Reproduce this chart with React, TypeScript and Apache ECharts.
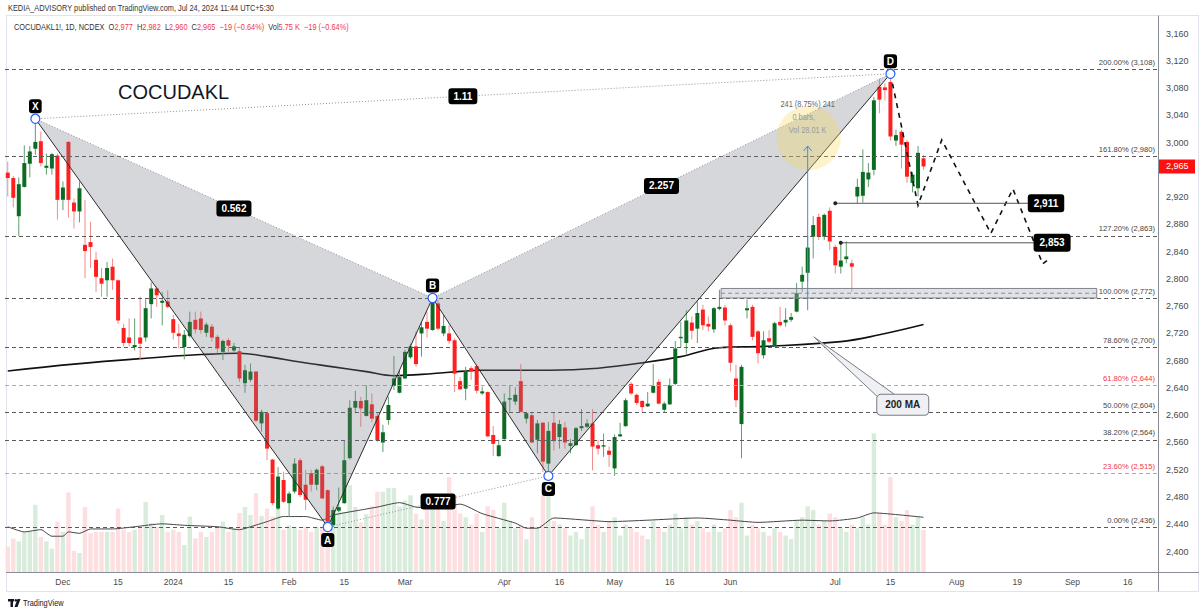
import React, { useEffect, useRef } from 'react';
import * as echarts from 'echarts';

const FONT = "'Liberation Sans', Arial, sans-serif";

// ---- calendar ----
const firstDay = '2023-11-16';
const lastDay = '2024-09-23';
const holidays = ['2023-11-27', '2023-12-25', '2024-01-22', '2024-01-26', '2024-03-08', '2024-03-25', '2024-03-29', '2024-04-11', '2024-04-17', '2024-05-01', '2024-05-20', '2024-06-17', '2024-07-17', '2024-08-15'];

const tickDates = ['2023-12-01', '2023-12-15', '2024-01-01', '2024-01-15', '2024-02-01', '2024-02-15', '2024-03-01', '2024-04-01', '2024-04-16', '2024-05-02', '2024-05-16', '2024-06-03', '2024-07-01', '2024-07-15', '2024-08-01', '2024-08-19', '2024-09-02', '2024-09-16'];
const tickTexts = ['Dec', '15', '2024', '15', 'Feb', '15', 'Mar', 'Apr', '16', 'May', '16', 'Jun', 'Jul', '15', 'Aug', '19', 'Sep', '16'];

// ---- OHLC (daily) ----
const opens = [
  2956, 2948, 2892, 2935, 2969, 2991, 3002, 2963, 2962, 2981,
  2916, 3001, 2912, 2899, 2850, 2854, 2828, 2801, 2798, 2818,
  2798, 2728, 2714, 2700, 2714, 2714, 2763, 2786, 2765, 2767,
  2741, 2720, 2700, 2716, 2740, 2742, 2721, 2730, 2715, 2693,
  2710, 2695, 2694, 2647, 2652, 2664, 2588, 2603, 2535, 2463,
  2505, 2471, 2488, 2534, 2498, 2515, 2498, 2525, 2490, 2439,
  2460, 2471, 2537, 2611, 2621, 2599, 2616, 2599, 2560, 2593,
  2643, 2633, 2654, 2685, 2701, 2720, 2737, 2725, 2764, 2720,
  2720, 2710, 2650, 2639, 2669, 2672, 2632, 2634, 2571, 2540,
  2565, 2623, 2620, 2650, 2595, 2600, 2564, 2589, 2529, 2589,
  2568, 2582, 2555, 2556, 2581, 2583, 2588, 2556, 2554, 2548,
  2522, 2569, 2584, 2646, 2630, 2621, 2613, 2633, 2649, 2608,
  2616, 2646, 2713, 2706, 2736, 2727, 2755, 2734, 2726, 2756,
  2758, 2732, 2654, 2587, 2754, 2759, 2723, 2688, 2713, 2701,
  2737, 2736, 2740, 2752, 2796, 2809, 2862, 2891, 2862, 2900,
  2847, 2818, 2829, 2823, 2921, 2922, 2946, 2960, 3082, 3081,
  3089, 3003, 3016, 3001, 2941, 2933, 2977,
];
const highs = [
  2972, 2951, 2949, 2996, 2995, 3035, 3016, 2984, 2985, 2984,
  2943, 3002, 2918, 2943, 2916, 2884, 2840, 2816, 2825, 2830,
  2799, 2734, 2742, 2742, 2774, 2770, 2795, 2789, 2781, 2783,
  2747, 2734, 2725, 2752, 2752, 2752, 2736, 2734, 2718, 2711,
  2713, 2706, 2700, 2674, 2676, 2664, 2608, 2605, 2536, 2524,
  2517, 2488, 2537, 2537, 2520, 2520, 2522, 2527, 2491, 2466,
  2494, 2563, 2622, 2636, 2627, 2644, 2632, 2603, 2586, 2627,
  2687, 2666, 2696, 2705, 2723, 2737, 2752, 2772, 2769, 2747,
  2732, 2713, 2656, 2671, 2672, 2674, 2642, 2635, 2584, 2564,
  2632, 2644, 2641, 2675, 2605, 2604, 2593, 2590, 2590, 2604,
  2593, 2590, 2565, 2583, 2609, 2594, 2609, 2564, 2573, 2554,
  2572, 2589, 2625, 2649, 2632, 2622, 2634, 2675, 2653, 2620,
  2654, 2709, 2737, 2754, 2745, 2767, 2762, 2745, 2759, 2784,
  2762, 2735, 2674, 2674, 2770, 2762, 2725, 2723, 2725, 2737,
  2759, 2757, 2750, 2794, 2818, 2864, 2892, 2896, 2896, 2905,
  2850, 2853, 2855, 2828, 2947, 2990, 2970, 3067, 3094, 3087,
  3101, 3019, 3019, 3004, 2957, 2995, 2982,
];
const lows = [
  2921, 2905, 2863, 2934, 2949, 2982, 2965, 2953, 2953, 2887,
  2901, 2890, 2874, 2883, 2801, 2816, 2781, 2774, 2774, 2784,
  2734, 2701, 2701, 2695, 2681, 2708, 2742, 2759, 2732, 2757,
  2711, 2698, 2682, 2714, 2720, 2720, 2715, 2708, 2691, 2681,
  2691, 2692, 2649, 2633, 2649, 2590, 2576, 2534, 2468, 2461,
  2471, 2451, 2485, 2480, 2461, 2488, 2490, 2477, 2436, 2436,
  2458, 2470, 2535, 2603, 2583, 2598, 2590, 2561, 2546, 2586,
  2637, 2632, 2653, 2683, 2671, 2686, 2714, 2724, 2725, 2716,
  2705, 2634, 2637, 2622, 2652, 2632, 2630, 2568, 2540, 2539,
  2564, 2605, 2615, 2604, 2588, 2559, 2544, 2517, 2511, 2548,
  2551, 2551, 2544, 2555, 2577, 2581, 2519, 2542, 2539, 2524,
  2511, 2568, 2583, 2630, 2615, 2604, 2612, 2632, 2616, 2604,
  2615, 2644, 2700, 2690, 2711, 2706, 2725, 2723, 2721, 2754,
  2732, 2664, 2612, 2537, 2742, 2710, 2676, 2683, 2706, 2700,
  2730, 2730, 2737, 2751, 2781, 2796, 2830, 2857, 2857, 2842,
  2808, 2808, 2823, 2781, 2911, 2912, 2935, 2952, 3043, 3062,
  3003, 2995, 2962, 2941, 2927, 2921, 2960,
];
const closes = [
  2948, 2919, 2939, 2970, 2987, 3001, 2970, 2966, 2983, 2916,
  2934, 2916, 2899, 2933, 2841, 2847, 2803, 2793, 2816, 2798,
  2739, 2706, 2706, 2703, 2705, 2757, 2786, 2776, 2768, 2759,
  2721, 2716, 2718, 2737, 2726, 2725, 2733, 2714, 2698, 2709,
  2702, 2701, 2654, 2666, 2664, 2592, 2605, 2551, 2471, 2510,
  2473, 2485, 2529, 2483, 2476, 2498, 2520, 2478, 2444, 2461,
  2465, 2534, 2611, 2621, 2610, 2622, 2595, 2563, 2575, 2615,
  2654, 2656, 2693, 2701, 2675, 2729, 2727, 2767, 2727, 2731,
  2709, 2661, 2638, 2665, 2664, 2636, 2635, 2569, 2558, 2556,
  2620, 2625, 2630, 2605, 2603, 2560, 2588, 2532, 2577, 2562,
  2587, 2560, 2559, 2581, 2584, 2588, 2554, 2551, 2556, 2542,
  2568, 2572, 2622, 2632, 2618, 2612, 2617, 2643, 2617, 2617,
  2644, 2698, 2715, 2739, 2724, 2750, 2732, 2730, 2757, 2759,
  2739, 2677, 2622, 2671, 2757, 2715, 2691, 2710, 2708, 2735,
  2732, 2740, 2744, 2779, 2806, 2846, 2879, 2862, 2894, 2855,
  2820, 2827, 2833, 2818, 2935, 2957, 2956, 3062, 3063, 3077,
  3009, 3011, 2997, 2950, 2953, 2985, 2965,
];
// volume in thousands
const volumes = [
  3.5, 4.6, 4.2, 5.5, 5.5, 9.2, 4.8, 4.2, 3.2, 6.9,
  5.5, 10.9, 2.9, 2.6, 8.9, 5.3, 5.5, 5.5, 5.5, 5.5,
  8.7, 5.8, 5.5, 5.8, 6.0, 9.6, 6.7, 6.2, 7.8, 5.5,
  5.8, 5.5, 3.7, 7.6, 4.6, 5.5, 4.8, 5.5, 6.2, 6.9,
  5.5, 6.0, 8.1, 8.9, 7.8, 10.8, 7.7, 8.7, 7.6, 8.7,
  5.8, 6.4, 6.2, 5.8, 6.2, 5.5, 6.2, 6.2, 8.5, 8.0,
  8.9, 8.2, 11.9, 8.9, 6.8, 7.9, 9.0, 11.0, 11.0, 11.5,
  11.5, 9.0, 9.8, 10.5, 8.0, 7.2, 8.5, 10.8, 9.5, 7.0,
  13.0, 10.5, 8.0, 7.5, 6.5, 8.0, 5.5, 9.0, 8.5, 6.0,
  9.5, 7.0, 6.0, 6.5, 4.5, 7.5, 6.0, 10.5, 10.8, 7.0,
  6.5, 6.0, 5.0, 5.5, 4.5, 6.0, 9.0, 6.5, 5.5, 7.0,
  7.5, 5.0, 6.5, 6.0, 5.5, 5.0, 4.5, 7.0, 6.0, 5.5,
  6.5, 8.0, 6.0, 7.5, 6.5, 7.0, 6.0, 5.5, 6.5, 5.5,
  6.0, 8.5, 7.5, 9.5, 5.0, 6.5, 6.0, 5.5, 5.0, 6.0,
  5.5, 5.0, 4.5, 7.0, 7.5, 9.0, 8.5, 6.5, 7.0, 8.0,
  7.5, 6.0, 5.5, 6.5, 6.0, 7.5, 6.5, 19.0, 8.0, 6.5,
  13.0, 7.5, 7.0, 8.5, 6.5, 7.5, 5.75,
];
const volumeMA = [
  [0, 6.2], [3, 5.5], [6, 5.8], [8, 4.9], [10, 4.9], [11, 5.5], [13, 5.3], [15, 5.9], [19, 5.9], [23, 6.2],
  [28, 6.6], [32, 6.4], [38, 6.2], [42, 5.8], [44, 6.2], [47, 6.9], [50, 7.6], [54, 7.6], [57, 7.1], [59, 7.8],
  [64, 8.5], [67, 8.9], [71, 9.5], [74, 8.9], [78, 8.7], [82, 9.3], [86, 8.0], [92, 6.7], [94, 6.0], [96, 6.0],
  [99, 7.4], [105, 7.1], [109, 6.9], [116, 7.1], [125, 7.4], [131, 7.1], [136, 6.8], [144, 7.1], [149, 7.0],
  [154, 7.4], [157, 8.1], [162, 7.8], [166, 7.5],
];
const ma200 = [
  [0, 2665], [12, 2675], [24, 2683], [35, 2689], [42, 2691], [47, 2686], [53, 2678], [59, 2671], [65, 2664],
  [70, 2658], [75, 2660], [80, 2663], [86, 2666], [98, 2666], [107, 2669], [116, 2678], [122, 2686], [129, 2699],
  [137, 2701], [151, 2708], [158, 2718], [166, 2733],
];

// ---- Fibonacci retracement (A -> B) ----
const fibRatios = [0, 0.236, 0.382, 0.5, 0.618, 0.786, 1, 1.272, 1.618, 2];
const fibPrices = [2436, 2515, 2564, 2604, 2644, 2700, 2772, 2863, 2980, 3108];
const fibRed = [false, true, false, false, true, false, false, false, false, false];

// ---- XABCD pattern ----
const patternNames = ['X', 'A', 'B', 'C', 'D'];
const patternIdx = [5, 58, 77, 98, 160];
const patternPrice = [3035, 2436, 2772, 2511, 3101];
const ratioTexts = ['0.562', '0.777', '2.257', '1.11']; // XB, AC, BD, XD

// ---- projected path ----
const projIdx = [160, 165.0, 169.3, 178.2, 182.2, 187.6, 188.7];
const projPrice = [3101, 2908, 3004, 2867, 2932, 2822, 2829];

// ---- target lines ----
const targetPrices = [2911, 2853];
const targetStart = [150, 151];
const targetLabelIdx = [188.2, 189.3];

// ---- 100% zone ----
const zoneIdx = [129.3, 197.4];
const zonePrice = [2772, 2786];

// ---- price range measurement ----
const measureIdx = 145;
const measurePrices = [2754, 2995];
const measureTexts = ['241 (8.75%) 241', '0 bars,', 'Vol 28.01 K'];

// ---- 200 MA callout ----
const calloutIdx = 146.1;
const calloutPrice = 2715;

const lastPrice = 2965;

const UP = '#0b6b22';
const DN = '#ff1f1f';
const WICK_UP = '#5f9d6d';
const WICK_DN = '#f28b8b';
const NARROW_X = 0.82;

function buildDays(): string[] {
  const out: string[] = [];
  const hol = new Set(holidays);
  const d = new Date(firstDay + 'T00:00:00Z');
  const end = new Date(lastDay + 'T00:00:00Z');
  while (d.getTime() <= end.getTime()) {
    const wd = d.getUTCDay();
    const s = d.toISOString().slice(0, 10);
    if (wd !== 0 && wd !== 6 && !hol.has(s)) out.push(s);
    d.setUTCDate(d.getUTCDate() + 1);
  }
  return out;
}

const fmt = (v: number) => v.toLocaleString('en-US');

export default function App() {
  const ref = useRef<HTMLDivElement>(null);

  useEffect(() => {
    document.body.style.margin = '0';
    const el = ref.current!;
    const chart = echarts.init(el, null, { renderer: 'svg' });
    const days = buildDays();
    const tickMap: Record<string, string> = {};
    tickDates.forEach((d, i) => { tickMap[d] = tickTexts[i]; });
    const tickIdx = new Set(tickDates.map((d) => days.indexOf(d)));

    const candleData = opens.map((o, i) => [i, o, closes[i], lows[i], highs[i]]);
    const volData = volumes.map((v, i) => ({
      value: v,
      itemStyle: { color: closes[i] >= opens[i] ? '#d9ecdc' : '#fddfe2' },
    }));

    const helper = (api: any) => {
      const band = api.size([1, 0])[0];
      const P = (k: number, v: number) => {
        const k0 = Math.floor(k);
        const c = api.coord([k0, v]);
        return [c[0] + (k - k0) * band, c[1]];
      };
      return { band, P };
    };

    const renderCandle = (_p: any, api: any) => {
      const k = api.value(0), o = api.value(1), c = api.value(2), l = api.value(3), h = api.value(4);
      const pO = api.coord([k, o]);
      const pC = api.coord([k, c]);
      const pH = api.coord([k, h]);
      const pL = api.coord([k, l]);
      const band = api.size([1, 0])[0];
      const w = Math.max(1, band * 0.72);
      const up = c >= o;
      const xc = pO[0];
      const top = Math.min(pO[1], pC[1]);
      const bh = Math.max(1, Math.abs(pO[1] - pC[1]));
      return {
        type: 'group',
        children: [
          { type: 'line', shape: { x1: xc, y1: pH[1], x2: xc, y2: pL[1] }, style: { stroke: up ? WICK_UP : WICK_DN, lineWidth: 1 } },
          { type: 'rect', shape: { x: xc - w / 2, y: top, width: w, height: bh }, style: { fill: up ? UP : DN } },
        ],
      };
    };

    const renderUnder = (_p: any, api: any) => {
      const { P } = helper(api);
      const pts = patternIdx.map((k, i) => P(k, patternPrice[i]));
      const [X, A, B, C, D] = pts;
      const fill = 'rgba(120,123,134,0.30)';
      const z1 = P(zoneIdx[0], zonePrice[1]);
      const z2 = P(zoneIdx[1], zonePrice[0]);
      const zm = (z1[1] + z2[1]) / 2;
      const proj = projIdx.map((k, i) => P(k, projPrice[i]));
      const dotted = [[X, B], [A, C], [B, D], [X, D]].map(([p, q]) => ({
        type: 'line', shape: { x1: p[0], y1: p[1], x2: q[0], y2: q[1] },
        style: { stroke: '#8f929b', lineWidth: 1, lineDash: [1, 2], fill: 'none' },
      }));
      const targets: any[] = [];
      targetPrices.forEach((tp, i) => {
        const s = P(targetStart[i], tp);
        const e = P(targetLabelIdx[i], tp);
        targets.push({ type: 'line', shape: { x1: s[0], y1: s[1], x2: e[0], y2: e[1] }, style: { stroke: '#555', lineWidth: 1, fill: 'none' } });
        targets.push({ type: 'circle', shape: { cx: s[0], cy: s[1], r: 2 }, style: { fill: '#222' } });
      });
      const mb = P(measureIdx, measurePrices[0]);
      const mt = P(measureIdx, measurePrices[1]);
      return {
        type: 'group',
        children: [
          { type: 'polygon', shape: { points: [X, A, B] }, style: { fill } },
          { type: 'polygon', shape: { points: [B, C, D] }, style: { fill } },
          { type: 'rect', shape: { x: z1[0], y: z1[1], width: z2[0] - z1[0], height: z2[1] - z1[1] }, style: { fill: 'rgba(170,173,182,0.35)', stroke: '#80838c', lineWidth: 1 } },
          { type: 'line', shape: { x1: z1[0], y1: zm, x2: z2[0], y2: zm }, style: { stroke: '#8a8d96', lineWidth: 1, lineDash: [4, 3], fill: 'none' } },
          { type: 'polyline', shape: { points: [X, A, B, C, D] }, style: { stroke: '#2b2b2b', lineWidth: 1, fill: 'none' } },
          ...dotted,
          { type: 'polyline', shape: { points: proj }, style: { stroke: '#111', lineWidth: 1.6, lineDash: [5, 5], fill: 'none' } },
          ...targets,
          { type: 'circle', shape: { cx: mt[0] + 1, cy: mt[1] - 8, r: 32 }, style: { fill: 'rgba(245,215,80,0.30)' } },
          { type: 'line', shape: { x1: mb[0], y1: mb[1], x2: mt[0], y2: mt[1] }, style: { stroke: '#4a86f0', lineWidth: 1, fill: 'none' } },
          { type: 'polyline', shape: { points: [[mt[0] - 4, mt[1] + 5], [mt[0], mt[1]], [mt[0] + 4, mt[1] + 5]] }, style: { stroke: '#4a86f0', lineWidth: 1, fill: 'none' } },
        ],
      };
    };

    const renderOver = (_p: any, api: any) => {
      const { band, P } = helper(api);
      const pts = patternIdx.map((k, i) => P(k, patternPrice[i]));
      const [X, A, B, C, D] = pts;
      const pairs = [[X, B], [A, C], [B, D], [X, D]];
      const children: any[] = [];
      pairs.forEach(([p, q], i) => {
        children.push({
          type: 'text',
          style: {
            text: ratioTexts[i], x: (p[0] + q[0]) / 2, y: (p[1] + q[1]) / 2, align: 'center', verticalAlign: 'middle',
            font: `bold 10px ${FONT}`, fill: '#fff', backgroundColor: '#000', padding: [3, 5], borderRadius: 3,
          },
        });
      });
      pts.forEach((p, i) => {
        children.push({ type: 'circle', shape: { cx: p[0], cy: p[1], r: 4.5 }, style: { fill: '#fff', stroke: '#2962ff', lineWidth: 1.2 } });
        const below = patternNames[i] === 'A' || patternNames[i] === 'C';
        children.push({
          type: 'text',
          style: {
            text: patternNames[i], x: p[0], y: p[1] + (below ? 13 : -12.5), align: 'center', verticalAlign: 'middle',
            font: `bold 10px ${FONT}`, fill: '#fff', backgroundColor: '#000', padding: [2, 3], borderRadius: 3,
          },
        });
      });
      targetPrices.forEach((tp, i) => {
        const e = P(targetLabelIdx[i], tp);
        children.push({
          type: 'text',
          style: {
            text: fmt(tp), x: e[0], y: e[1], align: 'center', verticalAlign: 'middle',
            font: `bold 10px ${FONT}`, fill: '#fff', backgroundColor: '#000', padding: [4, 6], borderRadius: 3,
          },
        });
      });
      const mt = P(measureIdx, measurePrices[1]);
      measureTexts.forEach((t, i) => {
        children.push({
          type: 'text',
          x: mt[0] + (i === 1 ? -4 : 0),
          y: mt[1] - 42 + i * 13.3,
          scaleX: NARROW_X,
          style: {
            text: t, x: 0, y: 0, align: 'center', verticalAlign: 'middle',
            font: `9px ${FONT}`, fill: i === 0 ? '#666' : '#9a9a9a',
          },
        });
      });
      const tip = P(calloutIdx, calloutPrice);
      children.push({
        type: 'polygon',
        shape: { points: [tip, [tip[0] + 66, tip[1] + 62], [tip[0] + 80, tip[1] + 57]] },
        style: { fill: '#eef0f3', stroke: '#7a7d85', lineWidth: 1 },
      });
      children.push({
        type: 'text',
        style: {
          text: '200 MA', x: tip[0] + 89, y: tip[1] + 68, align: 'center', verticalAlign: 'middle',
          font: `bold 10px ${FONT}`, fill: '#222', backgroundColor: '#eef0f3', borderColor: '#7a7d85', borderWidth: 1,
          borderRadius: 4, padding: [5, 8],
        },
      });
      const lp = P(days.length - 1, lastPrice);
      const xr = lp[0] + band / 2;
      children.push({ type: 'rect', shape: { x: xr + 1, y: lp[1] - 7, width: 36, height: 14 }, style: { fill: '#ff1010' } });
      children.push({
        type: 'text',
        style: { text: fmt(lastPrice), x: xr + 8, y: lp[1], verticalAlign: 'middle', font: `9px ${FONT}`, fill: '#fff' },
      });
      return { type: 'group', children };
    };

    const option: any = {
      animation: false,
      textStyle: { fontFamily: FONT },
      grid: { left: 5, right: 42, top: 6.3, height: 572.5 },
      xAxis: {
        type: 'category',
        data: days,
        boundaryGap: true,
        offset: -7,
        axisLine: { show: false },
        axisTick: { show: false },
        splitLine: { show: false },
        axisLabel: {
          interval: (i: number) => tickIdx.has(i),
          formatter: (v: string) => tickMap[v] || '',
          color: '#4a4a4a',
          fontSize: 8.5,
          margin: 6,
          hideOverlap: false,
        },
      },
      yAxis: [
        {
          type: 'value',
          position: 'right',
          min: 2360,
          max: 3200,
          interval: 40,
          axisLine: { show: false },
          axisTick: { show: false },
          splitLine: { show: false },
          axisLabel: {
            color: '#4a4a4a',
            fontSize: 9,
            margin: 8,
            showMinLabel: false,
            showMaxLabel: false,
            formatter: (v: number) => (v === 2960 ? '' : fmt(v)),
          },
        },
        { type: 'value', min: -0.93, max: 77.5, show: false },
      ],
      series: [
        { type: 'bar', name: 'Volume', yAxisIndex: 1, data: volData, barWidth: '80%', z: 1, silent: true },
        {
          type: 'line', name: 'Volume MA', yAxisIndex: 1, data: volumeMA, smooth: 0.2, symbol: 'none',
          lineStyle: { color: '#444', width: 1 }, z: 2, silent: true,
        },
        {
          type: 'line', name: '200 MA', data: ma200, smooth: 0.4, symbol: 'none',
          lineStyle: { color: '#111', width: 1.6 }, z: 3, silent: true,
        },
        { type: 'custom', name: 'Price', data: candleData, encode: { x: 0, y: [1, 2, 3, 4] }, renderItem: renderCandle, z: 4, silent: true },
        { type: 'custom', name: 'Pattern', data: [[0, 2800]], encode: { x: 0, y: 1 }, renderItem: renderUnder, z: 10, silent: true },
        {
          type: 'line', name: 'Fib', data: [], z: 11, silent: true,
          markLine: {
            silent: true,
            symbol: ['none', 'none'],
            animation: false,
            data: fibPrices.map((p, i) => ({
              yAxis: p,
              lineStyle: { color: fibRed[i] ? '#f58c92' : '#5a5a5a', type: [4, 3], width: 1 },
              label: {
                show: true,
                position: 'insideEndTop',
                formatter: `${(fibRatios[i] * 100).toFixed(2)}% (${fmt(p)})`,
                color: fibRed[i] ? '#f23645' : '#444',
                fontSize: 7.6,
                distance: 3,
              },
            })),
          },
        },
        { type: 'custom', name: 'Labels', data: [[0, 2800]], encode: { x: 0, y: 1 }, renderItem: renderOver, z: 12, silent: true },
      ],
      graphic: [
        { type: 'text', x: 8, y: 8, scaleX: NARROW_X, style: { text: 'KEDIA_ADVISORY published on TradingView.com, Jul 24, 2024 11:44 UTC+5:30', font: `9px ${FONT}`, fill: '#333', verticalAlign: 'middle' } },
        { type: 'line', shape: { x1: 6, y1: 15.5, x2: 1199, y2: 15.5 }, style: { stroke: '#e0e3eb', lineWidth: 1 } },
        { type: 'line', shape: { x1: 6.5, y1: 15.5, x2: 6.5, y2: 591.5 }, style: { stroke: '#e0e3eb', lineWidth: 1 } },
        { type: 'line', shape: { x1: 1198.5, y1: 15.5, x2: 1198.5, y2: 591.5 }, style: { stroke: '#e0e3eb', lineWidth: 1 } },
        { type: 'line', shape: { x1: 6, y1: 591.5, x2: 1199, y2: 591.5 }, style: { stroke: '#e0e3eb', lineWidth: 1 } },
        { type: 'line', shape: { x1: 1158.5, y1: 15.5, x2: 1158.5, y2: 591.5 }, style: { stroke: '#8a8d96', lineWidth: 1 } },
        { type: 'line', shape: { x1: 6, y1: 572.5, x2: 1199, y2: 572.5 }, style: { stroke: '#8a8d96', lineWidth: 1 } },
        {
          type: 'text', x: 14, y: 27, scaleX: NARROW_X,
          style: {
            text: '{g|COCUDAKL1!, 1D, NCDEX  O}{r|2,977}{g|  H}{r|2,982}{g|  L}{r|2,960}{g|  C}{r|2,965}{r|  −19 (−0.64%)}{g|  Vol}{r|5.75 K}{r|  −19 (−0.64%)}',
            verticalAlign: 'middle',
            rich: {
              g: { fill: '#333', font: `9px ${FONT}` },
              r: { fill: '#f23645', font: `9px ${FONT}` },
            },
          },
        },
        { type: 'text', x: 118, y: 92, style: { text: 'COCUDAKL', font: `20px ${FONT}`, fill: '#131722', verticalAlign: 'middle' } },
        { type: 'rect', shape: { x: 8, y: 599, width: 6, height: 2.5 }, style: { fill: '#131722' } },
        { type: 'rect', shape: { x: 10.5, y: 599, width: 2.5, height: 8 }, style: { fill: '#131722' } },
        { type: 'circle', shape: { cx: 15.8, cy: 600.3, r: 1.3 }, style: { fill: '#131722' } },
        { type: 'polygon', shape: { points: [[17.5, 599], [20.5, 599], [17.5, 607], [14.5, 607]] }, style: { fill: '#131722' } },
        { type: 'text', x: 23, y: 603, scaleX: NARROW_X, style: { text: 'TradingView', font: `9px ${FONT}`, fill: '#131722', verticalAlign: 'middle' } },
      ],
    };

    chart.setOption(option);
    return () => chart.dispose();
  }, []);

  return <div ref={ref} style={{ width: 1200, height: 614 }} />;
}
